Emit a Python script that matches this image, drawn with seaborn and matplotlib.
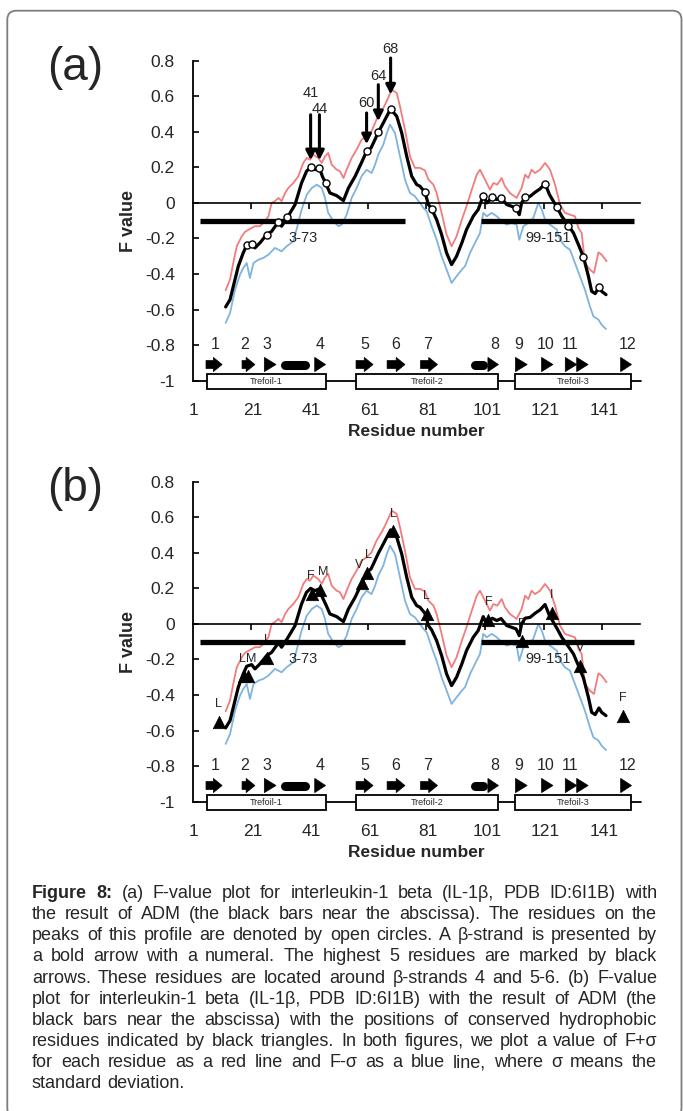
import numpy as np
import matplotlib
matplotlib.use("Agg")
import matplotlib.pyplot as plt
import seaborn as sns
from matplotlib.patches import Polygon, Rectangle, FancyBboxPatch
from matplotlib.transforms import IdentityTransform, blended_transform_factory

# ---------------- data ----------------
# F value (black line)
res_f = [11.8, 13.3, 16.1, 17.8, 19.0, 20.7, 21.8, 23.5, 25.8, 27.5,
         29.8, 30.9, 32.9, 35.5, 37.7, 39.4, 40.8, 42.3, 43.8, 44.8,
         45.9, 47.4, 49.7, 52.0, 53.7, 56.0, 58.2, 59.9, 61.4, 62.5,
         63.9, 65.6, 68.1, 70.2, 71.9, 73.6, 75.3, 77.0, 78.1, 79.8,
         81.0, 82.1, 83.8, 85.5, 87.2, 88.9, 90.6, 92.4, 94.0, 96.3,
         98.0, 99.7, 100.9, 102.8, 104.3, 105.8, 107.7, 109.4, 110.9, 112.0,
         112.8, 114.0, 115.7, 117.4, 119.1, 120.8, 122.3, 124.8, 126.5, 128.8,
         130.5, 132.2, 133.9, 135.6, 136.7, 137.9, 139.2, 140.1, 141.6]
f_val = [-0.585, -0.544, -0.357, -0.281, -0.238, -0.229, -0.253, -0.225, -0.178, -0.160,
         -0.107, -0.131, -0.081, -0.009, 0.112, 0.178, 0.200, 0.187, 0.197, 0.150,
         0.112, 0.056, 0.041, 0.013, 0.084, 0.150, 0.228, 0.290, 0.309, 0.347,
         0.397, 0.450, 0.529, 0.487, 0.393, 0.262, 0.150, 0.103, 0.094, 0.060,
         -0.009, -0.034, -0.094, -0.178, -0.281, -0.347, -0.300, -0.225, -0.150, -0.075,
         -0.037, 0.041, 0.000, 0.032, 0.019, 0.030, -0.009, -0.019, -0.028, -0.066,
         0.000, 0.032, 0.037, 0.060, 0.079, 0.109, 0.047, -0.023, -0.075, -0.128,
         -0.169, -0.235, -0.304, -0.413, -0.497, -0.510, -0.473, -0.497, -0.516]

# F + sigma (red line)
res_hi = [11.8, 13.3, 14.4, 15.6, 17.3, 18.4, 20.1, 21.8, 23.5, 25.2,
          26.4, 27.5, 28.6, 29.8, 30.9, 32.1, 33.2, 34.9, 36.6, 38.3,
          39.5, 40.6, 41.7, 43.4, 44.6, 45.7, 46.8, 48.0, 49.7, 50.8,
          52.0, 53.1, 54.8, 56.5, 58.2, 59.9, 61.6, 63.3, 65.0, 66.2,
          68.5, 70.2, 71.3, 73.0, 74.7, 76.4, 78.1, 79.8, 81.0, 82.7,
          83.8, 85.5, 87.2, 88.9, 90.6, 92.4, 94.0, 95.8, 97.5, 98.6,
          100.3, 102.0, 103.2, 104.5, 106.0, 107.1, 108.8, 111.1, 112.8, 114.0,
          115.1, 116.2, 117.4, 119.1, 120.8, 122.5, 124.2, 125.9, 127.6, 129.3,
          131.0, 132.2, 133.3, 134.4, 136.1, 137.5, 139.0, 140.1, 141.8]
f_hi = [-0.491, -0.431, -0.338, -0.244, -0.188, -0.163, -0.146, -0.131, -0.131, -0.103,
        -0.075, 0.000, 0.010, 0.028, 0.010, 0.056, 0.084, 0.112, 0.150, 0.225,
        0.253, 0.243, 0.272, 0.253, 0.225, 0.262, 0.281, 0.215, 0.187, 0.178,
        0.140, 0.187, 0.253, 0.300, 0.356, 0.375, 0.403, 0.469, 0.515, 0.553,
        0.637, 0.618, 0.543, 0.412, 0.262, 0.197, 0.197, 0.183, 0.131, 0.103,
        0.056, -0.056, -0.178, -0.244, -0.188, -0.094, -0.019, 0.075, 0.159, 0.187,
        0.131, 0.075, 0.112, 0.103, 0.140, 0.094, 0.056, 0.028, 0.084, 0.159,
        0.140, 0.187, 0.168, 0.187, 0.225, 0.187, 0.103, -0.009, -0.056, -0.066,
        -0.075, -0.141, -0.169, -0.338, -0.375, -0.394, -0.278, -0.291, -0.328]

# F - sigma (blue line)
res_lo = [11.8, 13.3, 15.0, 16.7, 17.8, 19.0, 20.1, 21.3, 23.0, 24.7,
          26.4, 28.6, 30.9, 32.6, 34.9, 36.0, 37.7, 39.5, 41.2, 42.9,
          44.6, 45.7, 46.8, 48.6, 50.3, 51.4, 53.1, 54.8, 56.5, 58.2,
          59.9, 61.6, 62.8, 63.9, 65.6, 66.8, 67.9, 69.6, 71.3, 73.0,
          74.7, 76.4, 78.1, 79.3, 80.4, 82.1, 83.8, 85.5, 87.2, 88.9,
          90.6, 92.4, 93.5, 95.2, 96.9, 98.6, 99.7, 100.9, 102.6, 104.3,
          106.0, 107.7, 109.4, 111.1, 112.0, 113.4, 115.1, 116.8, 118.5, 119.7,
          120.8, 122.5, 124.8, 125.9, 127.6, 129.3, 131.0, 132.7, 134.4, 136.1,
          137.3, 139.0, 140.1, 141.6]
f_lo = [-0.675, -0.619, -0.488, -0.403, -0.366, -0.338, -0.422, -0.338, -0.319, -0.309,
        -0.291, -0.253, -0.272, -0.244, -0.216, -0.150, -0.038, 0.047, 0.084, 0.103,
        0.084, 0.028, -0.056, -0.103, -0.131, -0.122, -0.066, 0.028, 0.084, 0.150,
        0.187, 0.168, 0.215, 0.272, 0.328, 0.393, 0.440, 0.393, 0.262, 0.131,
        0.056, 0.037, 0.000, -0.028, -0.047, -0.131, -0.207, -0.300, -0.375, -0.450,
        -0.413, -0.375, -0.356, -0.281, -0.225, -0.169, -0.056, -0.075, -0.056, -0.075,
        -0.103, -0.122, -0.113, -0.122, -0.207, -0.131, -0.113, -0.084, 0.000, -0.038,
        -0.094, -0.122, -0.150, -0.207, -0.244, -0.263, -0.338, -0.413, -0.488, -0.581,
        -0.638, -0.656, -0.685, -0.709]

# (a) peaks (open circles) and the highest five residues
peak_res = [19.0, 20.7, 25.8, 29.8, 32.9, 40.8, 43.8, 45.9, 59.9, 63.9, 68.1, 79.8,
            82.1, 99.7, 102.8, 105.8, 110.9, 114.0, 120.8, 124.8, 128.8, 133.9, 139.2]
peak_val = [-0.238, -0.229, -0.178, -0.107, -0.081, 0.200, 0.197, 0.112, 0.290, 0.397,
            0.529, 0.060, -0.034, 0.041, 0.032, 0.030, -0.028, 0.032, 0.109, -0.023,
            -0.128, -0.304, -0.473]
top_labels = ["41", "44", "60", "64", "68"]
top_res = [40.8, 43.8, 59.9, 63.9, 68.1]
top_tip = [0.24, 0.24, 0.33, 0.46, 0.61]
top_tail = [0.496, 0.496, 0.506, 0.665, 0.815]
top_text_y = [0.619, 0.529, 0.562, 0.712, 0.866]

# (b) conserved hydrophobic residues (black triangles)
hyd_res = [9.5, 18.1, 19.5, 26.0, 41.4, 44.0, 58.2, 59.9, 69.0, 80.4, 101.5, 112.8, 123.1, 132.7, 147.3]
hyd_val = [-0.553, -0.295, -0.295, -0.191, 0.168, 0.193, 0.230, 0.287, 0.521, 0.058,
           0.024, -0.098, 0.062, -0.238, -0.516]
hyd_lab = ["L", "L", "M", "L", "F", "M", "V", "L", "L", "L", "F", "F", "I", "V", "F"]

# ADM segments
adm_start = [3, 99]
adm_end = [73, 151]
adm_text = ["3-73", "99-151"]

# secondary structure
strand_num = ["1", "2", "3", "4", "5", "6", "7", "8", "9", "10", "11", "12"]
strand_start = [5.1, 17.4, 25.0, 42.2, 56.3, 66.9, 78.3, 101.3, 110.7, 119.6, 127.7, 146.6]
strand_end = [10.6, 21.8, 29.0, 45.9, 62.1, 73.0, 84.1, 104.9, 114.7, 123.5, 135.5, 150.3]
strand_tail = [1, 1, 0, 0, 1, 1, 1, 0, 0, 0, 0, 0]
strand_heads = [1, 1, 1, 1, 1, 1, 1, 1, 1, 1, 2, 1]
strand_lab_x = [8.2, 18.4, 25.9, 44.0, 59.4, 69.9, 80.7, 103.7, 111.9, 121.1, 129.3, 149.0]
helix_start = [30.4, 95.2]
helix_end = [40.6, 101.3]
domain_names = ["Trefoil-1", "Trefoil-2", "Trefoil-3"]
domain_start = [5.3, 56.3, 110.7]
domain_end = [46.1, 104.9, 150.0]

xlabels = ["1", "21", "41", "61", "81", "101", "121", "141"]
xlabel_pos = [1, 21, 41, 61, 81, 101, 121, 141]
ytick_pos = [-1, -0.8, -0.6, -0.4, -0.2, 0, 0.2, 0.4, 0.6, 0.8]
ytick_lab = ["-1", "-0.8", "-0.6", "-0.4", "-0.2", "0", "0.2", "0.4", "0.6", "0.8"]

caption_lines = [
    "Figure 8: (a) F-value plot for interleukin-1 beta (IL-1β, PDB ID:6I1B) with",
    "the result of ADM (the black bars near the abscissa). The residues on the",
    "peaks of this profile are denoted by open circles. A β-strand is presented by",
    "a bold arrow with a numeral. The highest 5 residues are marked by black",
    "arrows. These residues are located around β-strands 4 and 5-6. (b) F-value",
    "plot for interleukin-1 beta (IL-1β, PDB ID:6I1B) with the result of ADM (the",
    "black bars near the abscissa) with the positions of conserved hydrophobic",
    "residues indicated by black triangles. In both figures, we plot a value of F+σ",
    "for each residue as a red line and F-σ as a blue line, where σ means the",
    "standard deviation.",
]

RED = "#f27c7c"
BLUE = "#7fb3e0"

sns.set_style("white")
plt.rcParams['font.family'] = ['Liberation Sans', 'DejaVu Sans']

W, H = 683, 1111
fig = plt.figure(figsize=(W / 100, H / 100), dpi=100)


def strand_poly(ax, x0, x1, y, tail):
    hw, tw = 0.08, 0.045
    if tail:
        xh = x1 - 3.0
        pts = [(x0, y - tw / 2), (xh, y - tw / 2), (xh, y - hw / 2), (x1, y),
               (xh, y + hw / 2), (xh, y + tw / 2), (x0, y + tw / 2)]
    else:
        pts = [(x0, y - hw / 2), (x1, y), (x0, y + hw / 2)]
    ax.add_patch(Polygon(pts, closed=True, fc="black", ec="black", lw=0.5,
                         clip_on=False, zorder=6))


def draw_panel(top_px, letter, mode):
    ax = fig.add_axes([192.7 / W, 1 - (top_px + 320) / H, (640 - 192.7) / W, 320 / H])
    ax.set_facecolor("none")

    sns.lineplot(x=res_hi, y=f_hi, color=RED, lw=1.3, estimator=None, sort=False, ax=ax, zorder=2)
    sns.lineplot(x=res_lo, y=f_lo, color=BLUE, lw=1.3, estimator=None, sort=False, ax=ax, zorder=2)
    sns.lineplot(x=res_f, y=f_val, color="black", lw=2.3, estimator=None, sort=False, ax=ax, zorder=4)

    ax.set_xlim(0.56, 153.2)
    ax.set_ylim(-1, 0.8)
    ax.set_xlabel("")
    ax.set_ylabel("F value", fontsize=13, fontweight="bold")
    ax.yaxis.set_label_coords(-0.125, 0.5)

    for s in ["top", "right"]:
        ax.spines[s].set_visible(False)
    ax.spines["bottom"].set_position(("data", 0))
    ax.spines["bottom"].set_linewidth(1.2)
    ax.spines["left"].set_linewidth(1.3)
    ax.spines["bottom"].set_color("black")
    ax.spines["left"].set_color("black")

    ax.set_yticks(ytick_pos)
    ax.set_yticklabels(ytick_lab)
    ax.tick_params(axis="y", direction="in", length=4, width=1.2, pad=13,
                   labelsize=12.5, left=True, color="black")
    ax.set_xticks(np.arange(20, 141, 20) + 0.3)
    ax.tick_params(axis="x", direction="out", length=4, width=1.2,
                   labelbottom=False, bottom=True, color="black")

    # ADM bars
    ax.hlines([-0.1] * len(adm_start), adm_start, adm_end, colors="black",
              lw=3.8, zorder=3.5, capstyle="butt")
    ax.text(38.3, -0.2, adm_text[0], fontsize=10.5, ha="center", va="center")
    ax.text(121.8, -0.2, adm_text[1], fontsize=10.5, ha="center", va="center")

    # secondary structure / domain overlay
    ax.plot([0.56, 153.6], [-1, -1], color="black", lw=1.3, clip_on=False, zorder=5)
    for a, b, name in zip(domain_start, domain_end, domain_names):
        ax.add_patch(Rectangle((a, -1.044), b - a, 0.08, fc="white", ec="black",
                               lw=1.3, clip_on=False, zorder=6))
        ax.text((a + b) / 2, -1.004, name, fontsize=6.5, ha="center", va="center", zorder=7)
    for a, b, t, nh in zip(strand_start, strand_end, strand_tail, strand_heads):
        if nh == 2:
            m = (a + b) / 2
            strand_poly(ax, a, m, -0.909, 0)
            strand_poly(ax, m, b, -0.909, 0)
        else:
            strand_poly(ax, a, b, -0.909, t)
    for a, b in zip(helix_start, helix_end):
        ax.plot([a + 1.55, b - 1.55], [-0.909, -0.909], color="black", lw=6.5,
                solid_capstyle="round", clip_on=False, zorder=6)
    for x, lab in zip(strand_lab_x, strand_num):
        ax.text(x, -0.797, lab, fontsize=11.5, ha="center", va="center")
    for x, lab in zip(xlabel_pos, xlabels):
        ax.text(x, -1.17, lab, fontsize=12.5, ha="center", va="center")
    tr = blended_transform_factory(ax.transAxes, ax.transData)
    ax.text(0.5, -1.285, "Residue number", transform=tr, fontsize=12.5,
            fontweight="bold", ha="center", va="center")

    if mode == "a":
        sns.scatterplot(x=peak_res, y=peak_val, marker="o", s=26, color="white",
                        edgecolor="black", linewidth=1.0, ax=ax, zorder=8, clip_on=False)
        for r, lab, tip, tail, ty in zip(top_res, top_labels, top_tip, top_tail, top_text_y):
            ax.annotate("", xy=(r, tip), xytext=(r, tail), annotation_clip=False,
                        arrowprops=dict(arrowstyle="-|>", color="black", lw=2.2,
                                        mutation_scale=14, shrinkA=0, shrinkB=0))
            ax.text(r, ty, lab, fontsize=10.5, ha="center", va="center", clip_on=False)
    else:
        sns.scatterplot(x=hyd_res, y=hyd_val, marker="^", s=80, color="black",
                        edgecolor="black", linewidth=0.5, ax=ax, zorder=8, clip_on=False)
        prev = None
        for k, (r, v, lab) in enumerate(zip(hyd_res, hyd_val, hyd_lab)):
            # close neighbours share one label row: push them apart
            nxt = hyd_res[k + 1] if k + 1 < len(hyd_res) else None
            if nxt is not None and nxt - r < 3:
                ax.text(r + 0.6, v + 0.1, lab, fontsize=9, ha="right", va="center")
            elif prev is not None and r - prev < 3:
                ax.text(r - 0.6, v + 0.1, lab, fontsize=9, ha="left", va="center")
            else:
                ax.text(r, v + 0.1, lab, fontsize=9, ha="center", va="center")
            prev = r

    fig.text(75 / W, 1 - (top_px + 7) / H, letter, fontsize=33, ha="center", va="center")
    return ax


draw_panel(60.7, "(a)", "a")
draw_panel(481.7, "(b)", "b")

# caption, justified like the journal layout
renderer = fig.canvas.get_renderer()
x_left, x_right = 32, 657
for i, line in enumerate(caption_lines):
    words = line.split(" ")
    y = 1 - (898 + i * 21.15) / H
    objs = []
    for j, w in enumerate(words):
        bold = (i == 0 and j < 2)
        objs.append(fig.text(0, y, w, fontsize=13, va="baseline", ha="left",
                             fontweight="bold" if bold else "normal"))
    widths = [t.get_window_extent(renderer).width for t in objs]
    if i < len(caption_lines) - 1:
        gap = (x_right - x_left - sum(widths)) / (len(words) - 1)
    else:
        gap = 4.5
    x = x_left
    for t, w in zip(objs, widths):
        t.set_x(x / W)
        x += w + gap

# rounded frame around the figure
frame = FancyBboxPatch((7.3, -6), 674.2, H - 10.7 + 6,
                       boxstyle="round,pad=0,rounding_size=9",
                       transform=IdentityTransform(), fill=False,
                       ec="#7d7d7d", lw=1.3)
fig.add_artist(frame)

fig.savefig("out.png", dpi=100)
